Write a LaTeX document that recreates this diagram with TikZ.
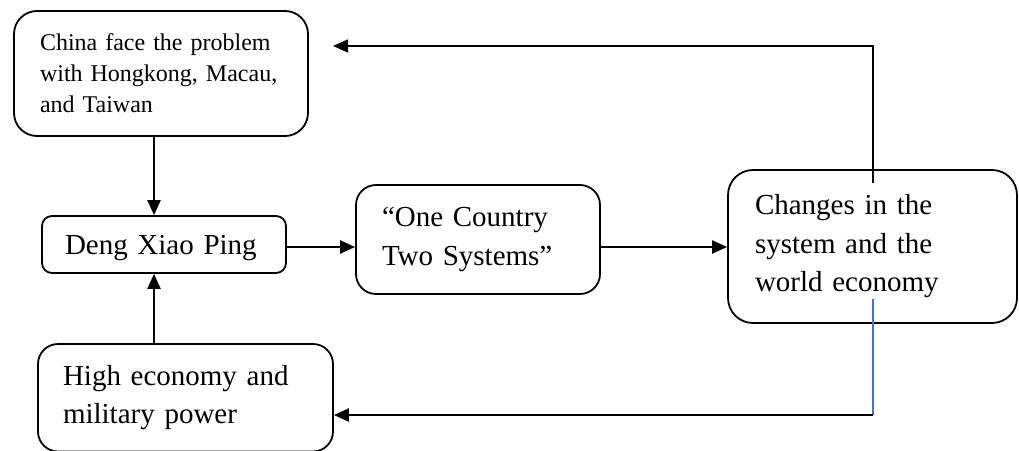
\documentclass[tikz,border=0pt]{standalone}
\usepackage{fontspec}
\setmainfont{Liberation Serif}
\usetikzlibrary{arrows.meta,calc}
\definecolor{lineblue}{RGB}{68,114,196}
\begin{document}
\begin{tikzpicture}[x=1pt,y=-1pt,
  box/.style={draw,line width=1.8pt,align=left,inner ysep=0pt,anchor=center},
  big/.style={font=\fontsize{29}{38.5}\selectfont},
  small/.style={font=\fontsize{24}{31}\selectfont},
  tip/.style={-{Triangle[length=15pt,width=13pt]}},
  arr/.style={line width=2.2pt,tip},
  thinarr/.style={line width=1.6pt,tip},
  blueline/.style={line width=1.2pt,draw=lineblue},
]
\useasboundingbox (0,0) rectangle (1019,450);
\clip (0,0) rectangle (1019,450);

\node[box,small,rounded corners=23pt,minimum width=294pt,minimum height=125pt,
  text width=242pt,inner xsep=26pt] (top) at (161,73.5)
  {China face the problem\\with Hongkong, Macau,\\and Taiwan};

\node[box,big,rounded corners=10pt,minimum width=244pt,minimum height=57pt,
  text width=198pt,inner xsep=23pt,text depth=0pt] (deng) at (164,244.5)
  {Deng Xiao Ping};

\node[box,big,rounded corners=20pt,minimum width=244pt,minimum height=109pt,
  text width=192pt,inner xsep=26pt] (mid) at (478,239.5)
  {“One Country\\Two Systems”};

\node[box,big,rounded corners=25pt,minimum width=289pt,minimum height=153pt,
  text width=235pt,inner xsep=27pt] (chg) at (872.5,246.5)
  {Changes in the\\system and the\\world economy};

\node[box,big,rounded corners=20pt,minimum width=295pt,minimum height=107.5pt,
  text width=245pt,inner xsep=25pt] (high) at (185.5,397.75)
  {High economy and\\military power};

\coordinate (cx) at (154,0);
\coordinate (ay) at (0,247);
\draw[arr] (top.south -| cx) -- (deng.north -| cx);
\draw[arr] (high.north -| cx) -- (deng.south -| cx);
\draw[arr] (deng.east |- ay) -- (mid.west |- ay);
\draw[arr] (mid.east |- ay) -- (chg.west |- ay);

\coordinate (up0) at (873,183);
\coordinate (upend) at (333,46);
\draw[thinarr] (up0) |- (upend);

\coordinate (dn0) at (873,299);
\coordinate (dn1) at (873,415);
\draw[blueline] (dn0) -- (dn1);
\draw[arr] (dn1) -- (high.east |- dn1);
\end{tikzpicture}
\end{document}
